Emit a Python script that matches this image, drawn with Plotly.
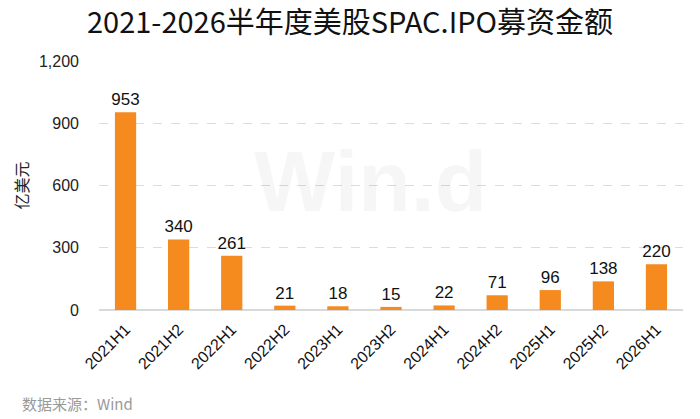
import plotly.graph_objects as go

periods = ["2021H1", "2021H2", "2022H1", "2022H2", "2023H1", "2023H2",
           "2024H1", "2024H2", "2025H1", "2025H2", "2026H1"]
amounts = [953, 340, 261, 21, 18, 15, 22, 71, 96, 138, 220]

fig = go.Figure()

fig.add_trace(go.Bar(
    x=periods, y=amounts,
    marker=dict(color="#F58A1F", line=dict(width=0)),
    text=[str(v) for v in amounts],
    textposition="outside",
    constraintext="none",
    textfont=dict(size=17, color="#111111", family="Liberation Sans, Arial"),
    cliponaxis=False,
))

# faint watermark
fig.add_annotation(
    text="<b>Win.d</b>", x=0.465, y=0.52, xref="paper", yref="paper",
    showarrow=False, font=dict(size=86, color="rgba(0,0,0,0.035)", family="Liberation Sans, Arial"),
    xanchor="center", yanchor="middle",
)

# source note (plot area is 584 x 249 px, origin at 99, 310)
fig.add_annotation(
    text="数据来源：Wind", x=-79 / 584, y=-(403 - 310) / 249, xref="paper", yref="paper",
    showarrow=False, font=dict(size=15, color="#9a9a9a", family="Noto Sans CJK SC"),
    xanchor="left", yanchor="middle",
)

fig.update_layout(
    width=700, height=419,
    margin=dict(l=99, r=17, t=61, b=109),
    paper_bgcolor="white", plot_bgcolor="white",
    title=dict(text="2021-2026半年度美股SPAC.IPO募资金额", x=0.5, xanchor="center",
               y=1 - 23 / 419, yanchor="middle",
               font=dict(size=29, color="#111111", family="Noto Sans CJK SC")),
    bargap=0.6,
    showlegend=False,
    xaxis=dict(tickangle=-45, tickfont=dict(size=16, color="#111111", family="Liberation Sans, Arial"),
               showgrid=False, showline=False, ticks="", ticklabelstandoff=6),
    yaxis=dict(range=[0, 1200], tickvals=[0, 300, 600, 900, 1200],
               ticktext=["0", "300", "600", "900", "1,200"],
               tickfont=dict(size=16, color="#222222", family="Liberation Sans, Arial"),
               showgrid=True, gridcolor="#dcdcdc", griddash="dash", gridwidth=1,
               zeroline=True, zerolinecolor="#d9d9d9", zerolinewidth=1.5,
               ticks="", ticklabelstandoff=19,
               title=dict(text="亿美元", standoff=6,
                          font=dict(size=16, color="#222222", family="Noto Sans CJK SC"))),
)

fig.write_html("out.html", config={"displayModeBar": False},
               post_script="document.body.style.margin='0px';")
